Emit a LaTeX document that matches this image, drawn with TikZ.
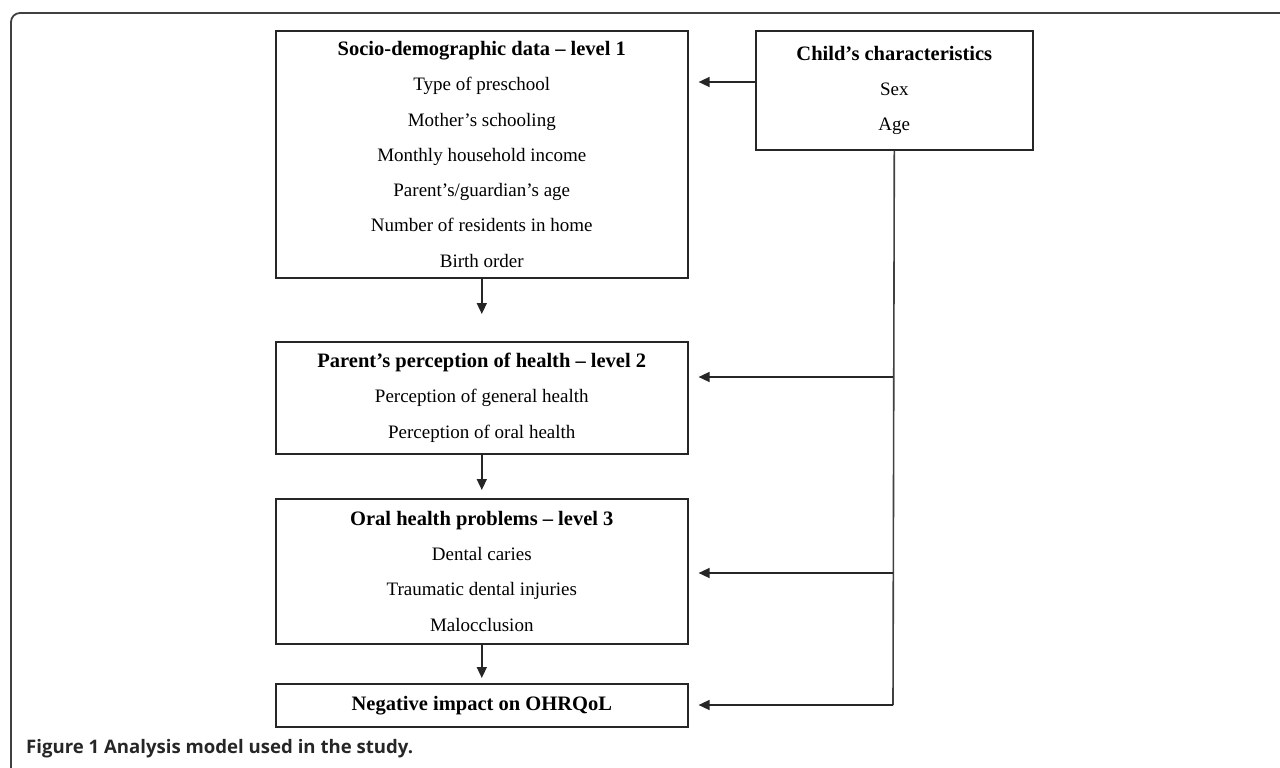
\documentclass[tikz,border=0pt]{standalone}
\usepackage{fontspec}
\setmainfont{Liberation Serif}
\newfontfamily\capfont{Open Sans}
\usetikzlibrary{arrows.meta}
\newcommand{\hd}[1]{{\bfseries\fontsize{20.5}{35.3}\selectfont #1}}
\tikzset{
  box/.style={draw=black!85, line width=1.6pt, anchor=north west, align=center,
    inner sep=0pt, font=\fontsize{19}{35.3}\selectfont},
  arr/.style={draw=black!85, line width=1.6pt, -{Triangle[length=11pt,width=10pt]}},
  conn/.style={draw=black!75, line width=1.6pt},
  frame/.style={draw=black!75, line width=1.8pt, rounded corners=9pt}
}
\begin{document}
\begin{tikzpicture}[x=1pt,y=-1pt]
\useasboundingbox (0,0) rectangle (1280,768);
\draw[frame] (11,768) -- (11,13) -- (1280,13);

\node[box, minimum width=412, minimum height=247] (soc) at (275,30)
  {\hd{Socio-demographic data -- level 1}\\Type of preschool\\Mother’s schooling\\Monthly household income\\Parent’s/guardian’s age\\Number of residents in home\\Birth order};
\node[box, minimum width=277, minimum height=119] (child) at (755,30)
  {\hd{Child’s characteristics}\\Sex\\Age};
\node[box, minimum width=412, minimum height=112] (par) at (275,341)
  {\hd{Parent’s perception of health -- level 2}\\Perception of general health\\Perception of oral health};
\node[box, minimum width=412, minimum height=145] (oral) at (275,498)
  {\hd{Oral health problems -- level 3}\\Dental caries\\Traumatic dental injuries\\Malocclusion};
\node[box, minimum width=412, minimum height=43] (neg) at (275,683)
  {\hd{Negative impact on OHRQoL}};

\node[anchor=west, inner sep=0pt, font=\capfont\bfseries\fontsize{18.6}{22}\selectfont, text=black!85] (cap) at (26,749)
  {Figure 1 Analysis model used in the study.};

\coordinate (j1) at (755,82);
\coordinate (j2) at (893,377);
\coordinate (j3) at (893,573);
\coordinate (j4) at (893,705);

\draw[arr, shorten >=10pt] (j1) -- (j1 -| soc.east);
\draw[conn] (child.south) -- (j4);
\draw[arr, shorten >=10pt] (j2) -- (j2 -| par.east);
\draw[arr, shorten >=10pt] (j3) -- (j3 -| oral.east);
\draw[arr, shorten >=10pt] (j4) -- (j4 -| neg.east);

\draw[arr, shorten >=27pt] (soc.south) -- (par.north);
\draw[arr, shorten >=8pt] (par.south) -- (oral.north);
\draw[arr, shorten >=5pt] (oral.south) -- (neg.north);
\end{tikzpicture}
\end{document}
